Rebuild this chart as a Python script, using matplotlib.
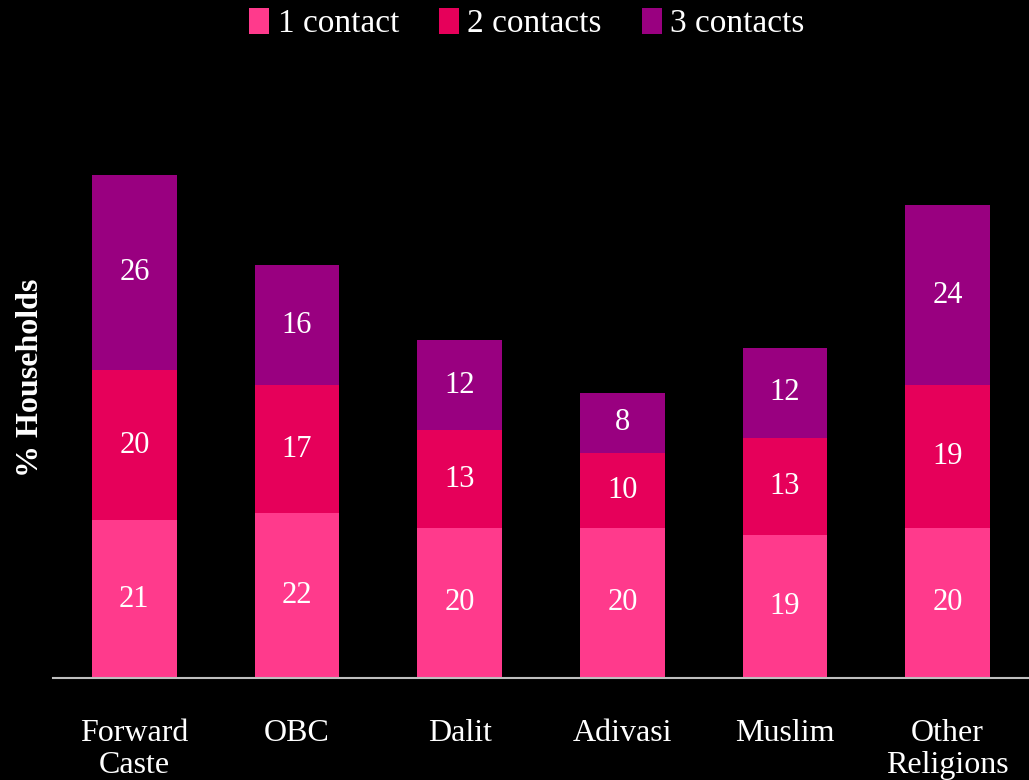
import numpy as np
import matplotlib.pyplot as plt

groups = ["Forward\nCaste", "OBC", "Dalit", "Adivasi", "Muslim", "Other\nReligions"]
one_contact = [21, 22, 20, 20, 19, 20]
two_contacts = [20, 17, 13, 10, 13, 19]
three_contacts = [26, 16, 12, 8, 12, 24]

series = [("1 contact", one_contact, "#ff3a8c"),
          ("2 contacts", two_contacts, "#e6005a"),
          ("3 contacts", three_contacts, "#990080")]

plt.rcParams['font.family'] = ['Liberation Serif', 'DejaVu Serif']

fig = plt.figure(figsize=(10.29, 7.8), dpi=100, facecolor="black")
ax = fig.add_axes([0.0515, 0.131, 0.9485, 0.769])
ax.set_facecolor("black")

x = np.arange(len(groups))
bottom = np.zeros(len(groups))
for name, vals, col in series:
    vals = np.array(vals)
    bars = ax.bar(x, vals, 0.52, bottom=bottom, color=col, label=name)
    for b, v, y0 in zip(bars, vals, bottom):
        ax.text(b.get_x() + b.get_width() / 2, y0 + v / 2, str(v),
                ha="center", va="center", color="white", fontsize=22)
    bottom += vals

ax.set_xlim(-0.5, 5.5)
ax.set_ylim(0, 80)
ax.set_xticks(x)
ax.set_xticklabels(groups, color="white", fontsize=23, linespacing=1.1)
ax.tick_params(axis="x", length=0, pad=30)
ax.set_yticks([])
for s in ["top", "right", "left"]:
    ax.spines[s].set_visible(False)
ax.spines["bottom"].set_color("#bfbfbf")
ax.spines["bottom"].set_linewidth(1.5)

ax.set_ylabel("% Households", color="white", fontsize=23, fontweight="bold", labelpad=6)

leg = fig.legend(loc="upper center", bbox_to_anchor=(0.512, 1.028), ncol=3, frameon=False,
                 fontsize=24, handlelength=0.6, handleheight=0.8, handletextpad=0.25,
                 columnspacing=1.2)
for t in leg.get_texts():
    t.set_color("white")

fig.savefig("out.png", dpi=100, facecolor="black")
